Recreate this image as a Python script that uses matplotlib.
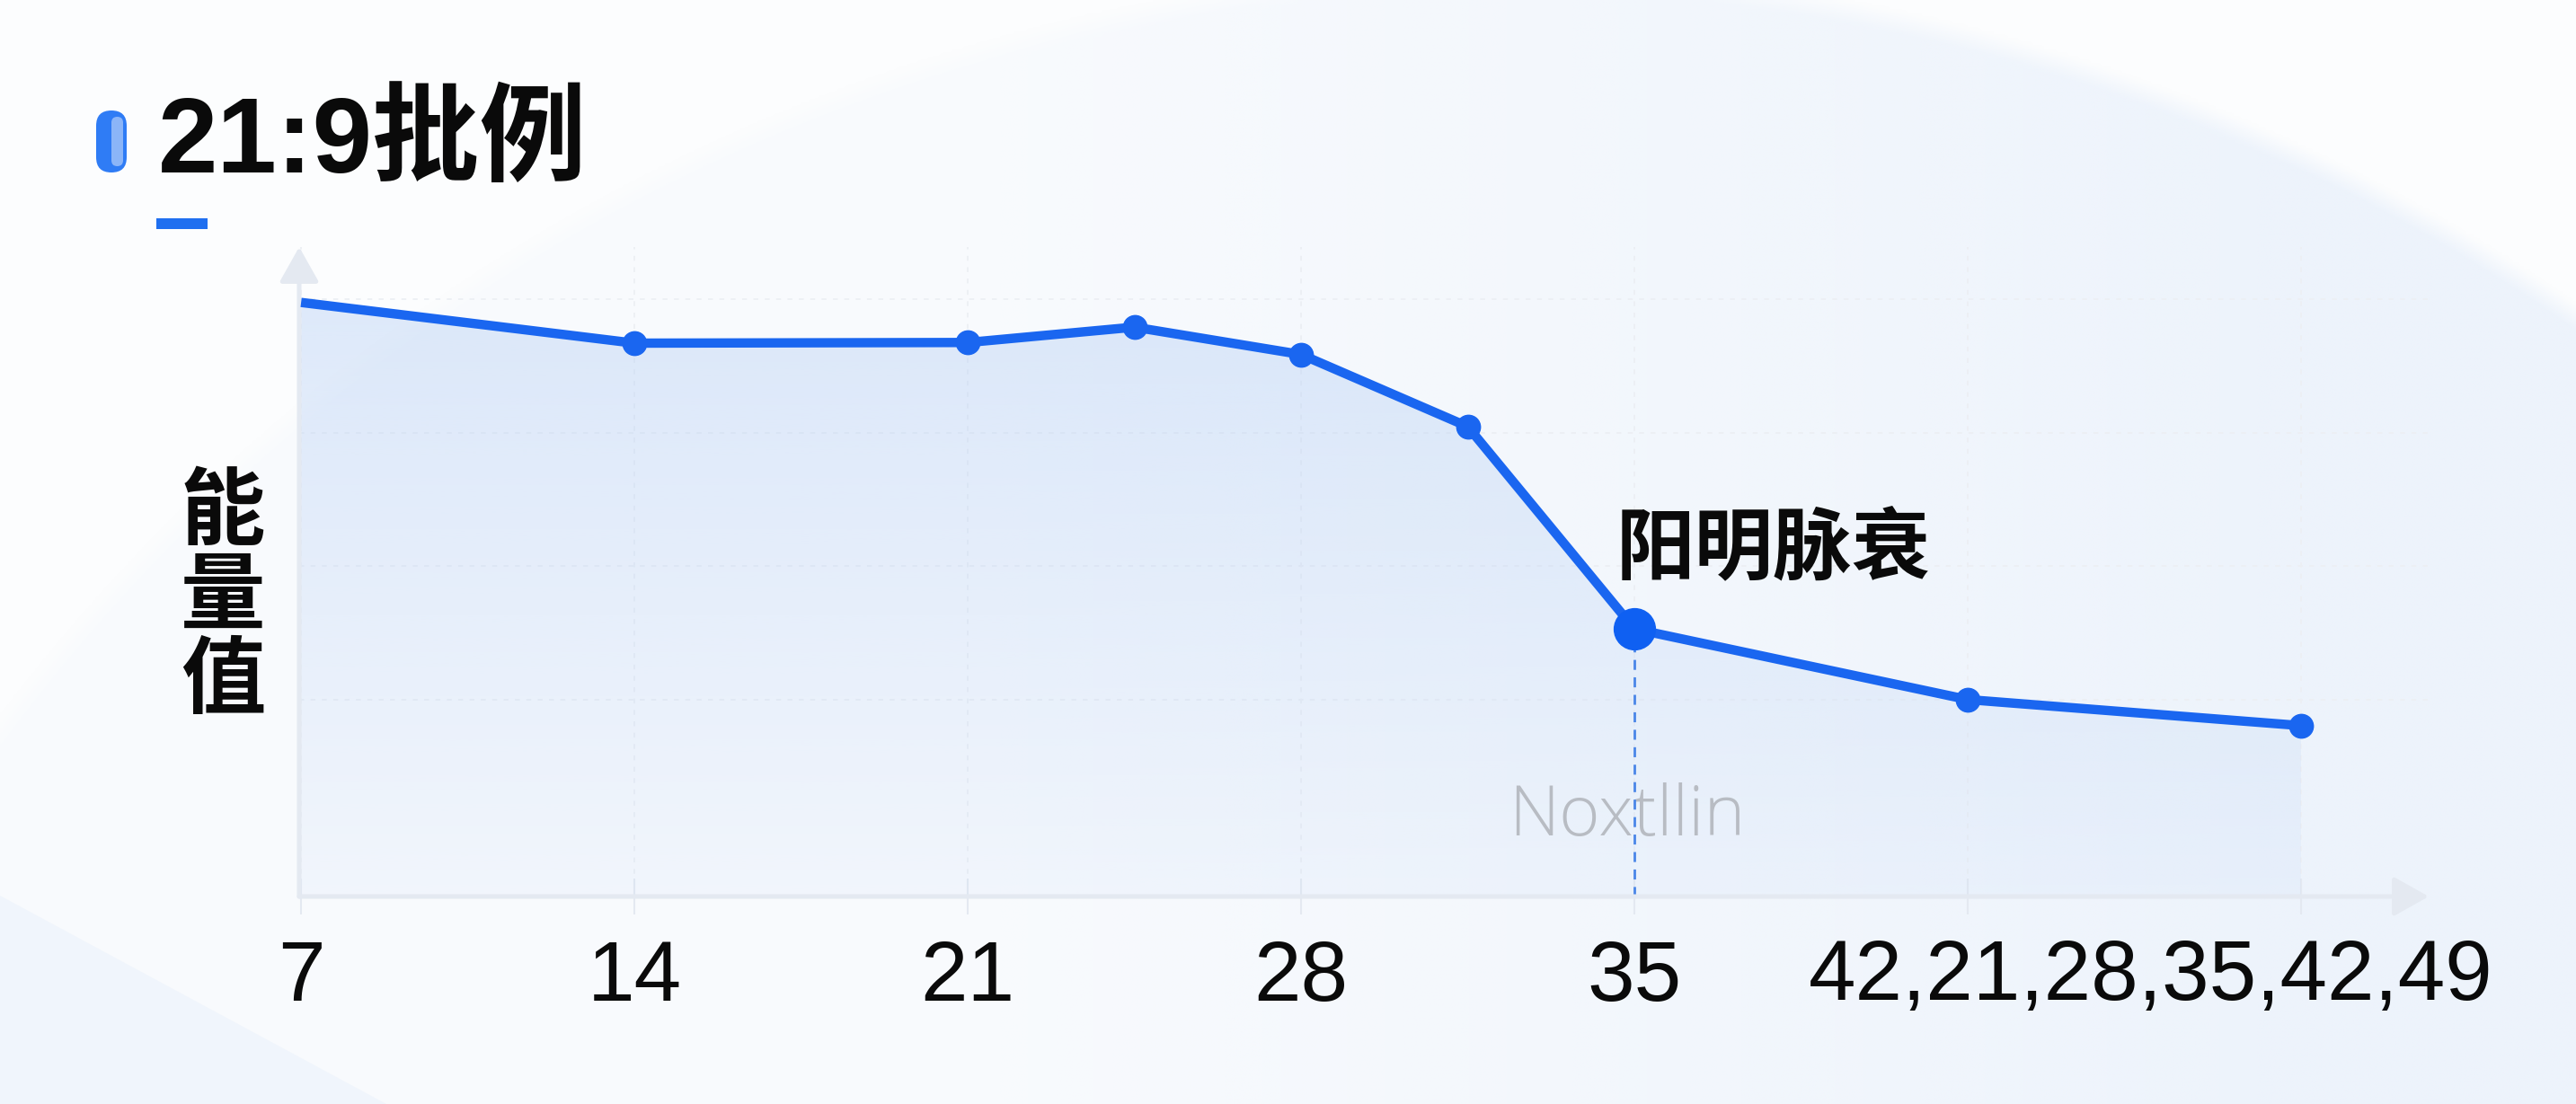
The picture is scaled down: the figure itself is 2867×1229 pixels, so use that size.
import numpy as np
import matplotlib
matplotlib.use("Agg")
import matplotlib.pyplot as plt
from matplotlib.patches import FancyBboxPatch, Polygon, Rectangle, PathPatch

plt.rcParams['font.family'] = ['Liberation Sans', 'Noto Sans CJK SC', 'DejaVu Sans']

# 数据
days = [7, 14, 21, 24.5, 28, 31.5, 35, 42, 49]
energy = [89.5, 83.4, 83.5, 85.8, 81.7, 70.9, 40.6, 30.0, 26.1]
tick_pos = [7, 14, 21, 28, 35, 42, 49]
tick_labels = ["7", "14", "21", "28", "35", "", ""]
tail_label = "42,21,28,35,42,49"
grid_levels = [30, 50, 70, 90]
title = "21:9批例"
ylabel = "能量值"
note = "阳明脉衰"
note_day = 35
ghost = "Noxtllin"

W, H = 2867, 1229
BLUE = "#1a66f0"
AXIS = "#e4e9f1"
CJK = ['Noto Sans CJK SC', 'DejaVu Sans']

fig = plt.figure(figsize=(W / 100, H / 100), dpi=100)
fig.patch.set_facecolor("#fcfdfe")

# 背景（像素坐标）
bg = fig.add_axes([0, 0, 1, 1], zorder=0)
bg.set_xlim(0, W)
bg.set_ylim(H, 0)
bg.axis("off")

gx, gy = np.meshgrid(np.linspace(0, W, 720), np.linspace(0, H, 310))
d = np.hypot(gx - 1673, gy - 2063)
inside = np.clip((2100 - d) / 25, 0, 1)
ramp = 0.25 + 0.75 * np.clip((gx - 1100) / 1500, 0, 1)
glow = np.zeros(gx.shape + (4,))
glow[..., 0] = 232 / 255
glow[..., 1] = 240 / 255
glow[..., 2] = 251 / 255
glow[..., 3] = inside * ramp * 0.75
bg.imshow(glow, extent=(0, W, H, 0), aspect="auto", interpolation="bilinear", zorder=0)

bg.add_patch(Polygon([(0, 997), (0, H), (430, H)], closed=True, color="#f0f5fc", lw=0, zorder=1))
bg.add_patch(FancyBboxPatch((107, 123), 34, 69, boxstyle="round,pad=0,rounding_size=17",
                            color="#2f7cf5", lw=0, zorder=2))
bg.add_patch(FancyBboxPatch((124, 130), 13, 55, boxstyle="round,pad=0,rounding_size=6.5",
                            color="#a3c4fa", lw=0, alpha=0.8, zorder=2))
bg.add_patch(Rectangle((174, 243), 57, 12, color="#1f6ff0", lw=0, zorder=2))
bg.set_xlim(0, W)
bg.set_ylim(H, 0)

fig.text(176 / W, 1 - 192 / H, title, fontsize=86, fontweight="bold",
         ha="left", va="baseline", color="#0a0a0a")
fig.text(248 / W, 1 - 665 / H, "\n".join(ylabel), fontsize=68, fontweight="bold",
         family=CJK, ha="center", va="center", linespacing=0.98, color="#0a0a0a")

# 主图
ax = fig.add_axes([333 / W, 1 - 998 / H, (2703 - 333) / W, (998 - 275) / H], zorder=1)
ax.set_facecolor("none")
ax.set_xlim(6.96, 51.68)
ax.set_ylim(0.5, 97.8)
for s in ax.spines.values():
    s.set_visible(False)

ax.set_yticks(grid_levels)
ax.set_yticklabels([])
ax.tick_params(axis="y", length=0)
ax.set_xticks(tick_pos)
ax.set_xticklabels(tick_labels, fontsize=68, color="#0a0a0a")
ax.tick_params(axis="x", direction="inout", length=29, width=1.5, color=AXIS, pad=19)
ax.grid(True, ls=(0, (3, 4)), color="#eceff4", lw=1.3)
ax.set_axisbelow(True)

# 坐标轴箭头
arrow = dict(arrowstyle="-|>,head_length=0.8,head_width=0.45", color=AXIS, lw=3.6,
             mutation_scale=30, shrinkA=0, shrinkB=0)
ax.annotate("", xy=(0, 1), xytext=(0, 0), xycoords="axes fraction", arrowprops=arrow)
ax.annotate("", xy=(1, 0), xytext=(0, 0), xycoords="axes fraction", arrowprops=arrow)

# 渐变填充
y0 = ax.get_ylim()[0]
fill = ax.fill_between(days, energy, y0, color="none", lw=0)
clip = PathPatch(fill.get_paths()[0], transform=ax.transData, fc="none", ec="none")
ax.add_patch(clip)
grad = np.zeros((256, 2, 4))
grad[..., 0] = 180 / 255
grad[..., 1] = 206 / 255
grad[..., 2] = 245 / 255
grad[..., 3] = np.linspace(0.42, 0.1, 256)[:, None]
im = ax.imshow(grad, extent=(days[0], days[-1], y0, max(energy)), aspect="auto",
               origin="upper", zorder=1.5)
im.set_clip_path(clip)

# 折线
ax.plot(days, energy, color=BLUE, lw=7.5, solid_capstyle="butt", solid_joinstyle="round", zorder=3)
idx = [i for i in range(1, len(days)) if days[i] != note_day]
ax.plot([days[i] for i in idx], [energy[i] for i in idx], "o", color=BLUE, ms=19, zorder=4)
k = days.index(note_day)
ax.plot(days[k], energy[k], "o", color="#0f60f2", ms=33, zorder=5)
ax.vlines(days[k], y0, energy[k], colors="#4a86e8", linestyles=(0, (4, 3)), lw=2, zorder=2)

ax.text(34.62, 52.5, note, fontsize=63, fontweight="bold", family=CJK,
        ha="left", va="center", color="#0a0a0a", zorder=6)
ax.text(34.85, 12.4, ghost, fontsize=56, family=["Open Sans", "DejaVu Sans"], fontweight="light",
        ha="center", va="center", color="#b3b7bd", alpha=0.9, zorder=1.8)
ax.annotate(tail_label, xy=(45.85, 0), xycoords=("data", "axes fraction"),
            xytext=(0, -33.4), textcoords="offset points", ha="center", va="top",
            fontsize=68, color="#0a0a0a", annotation_clip=False)

fig.savefig("out.png", dpi=100, facecolor=fig.get_facecolor())
